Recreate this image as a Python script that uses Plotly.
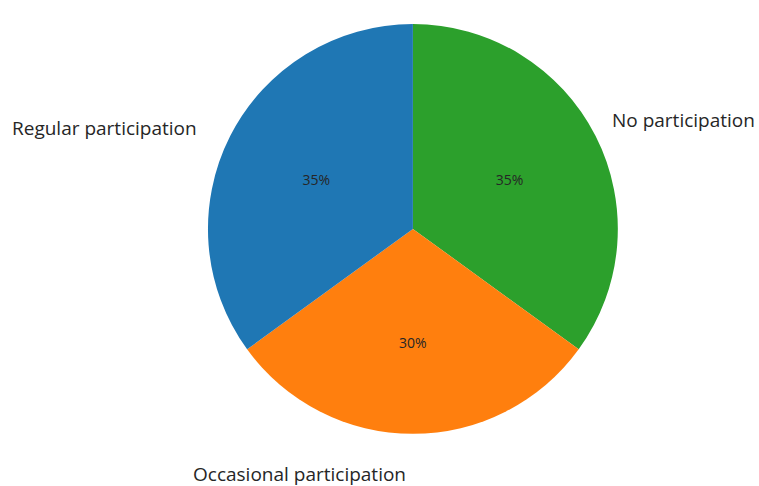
import plotly.graph_objects as go

# slices listed clockwise from 12 o'clock
labels = ["No participation", "Occasional participation", "Regular participation"]
values = [35, 30, 35]
colors = ["#2ca02c", "#ff7f0e", "#1f77b4"]

# outside label centres (paper coords)
label_x = [0.901, 0.395, 0.138]
label_y = [0.753, 0.025, 0.737]

fig = go.Figure(go.Pie(
    labels=labels,
    values=values,
    sort=False,
    direction="clockwise",
    rotation=0,
    marker=dict(colors=colors, line=dict(width=0)),
    texttemplate="%{percent:.0%}",
    textposition="inside",
    insidetextorientation="horizontal",
    textfont=dict(family="Open Sans", size=14, color="#262626"),
    showlegend=False,
    hoverinfo="label+percent",
    domain=dict(x=[0.274, 0.814], y=[0.107, 0.951]),
))

for lab, x, y in zip(labels, label_x, label_y):
    fig.add_annotation(x=x, y=y, xref="paper", yref="paper", text=lab,
                       xanchor="center", yanchor="middle",
                       showarrow=False, font=dict(family="Open Sans", size=19, color="#262626"))

fig.update_layout(
    width=759, height=486,
    margin=dict(l=0, r=0, t=0, b=0),
    paper_bgcolor="white", plot_bgcolor="white",
)
fig.write_html("out.html")
